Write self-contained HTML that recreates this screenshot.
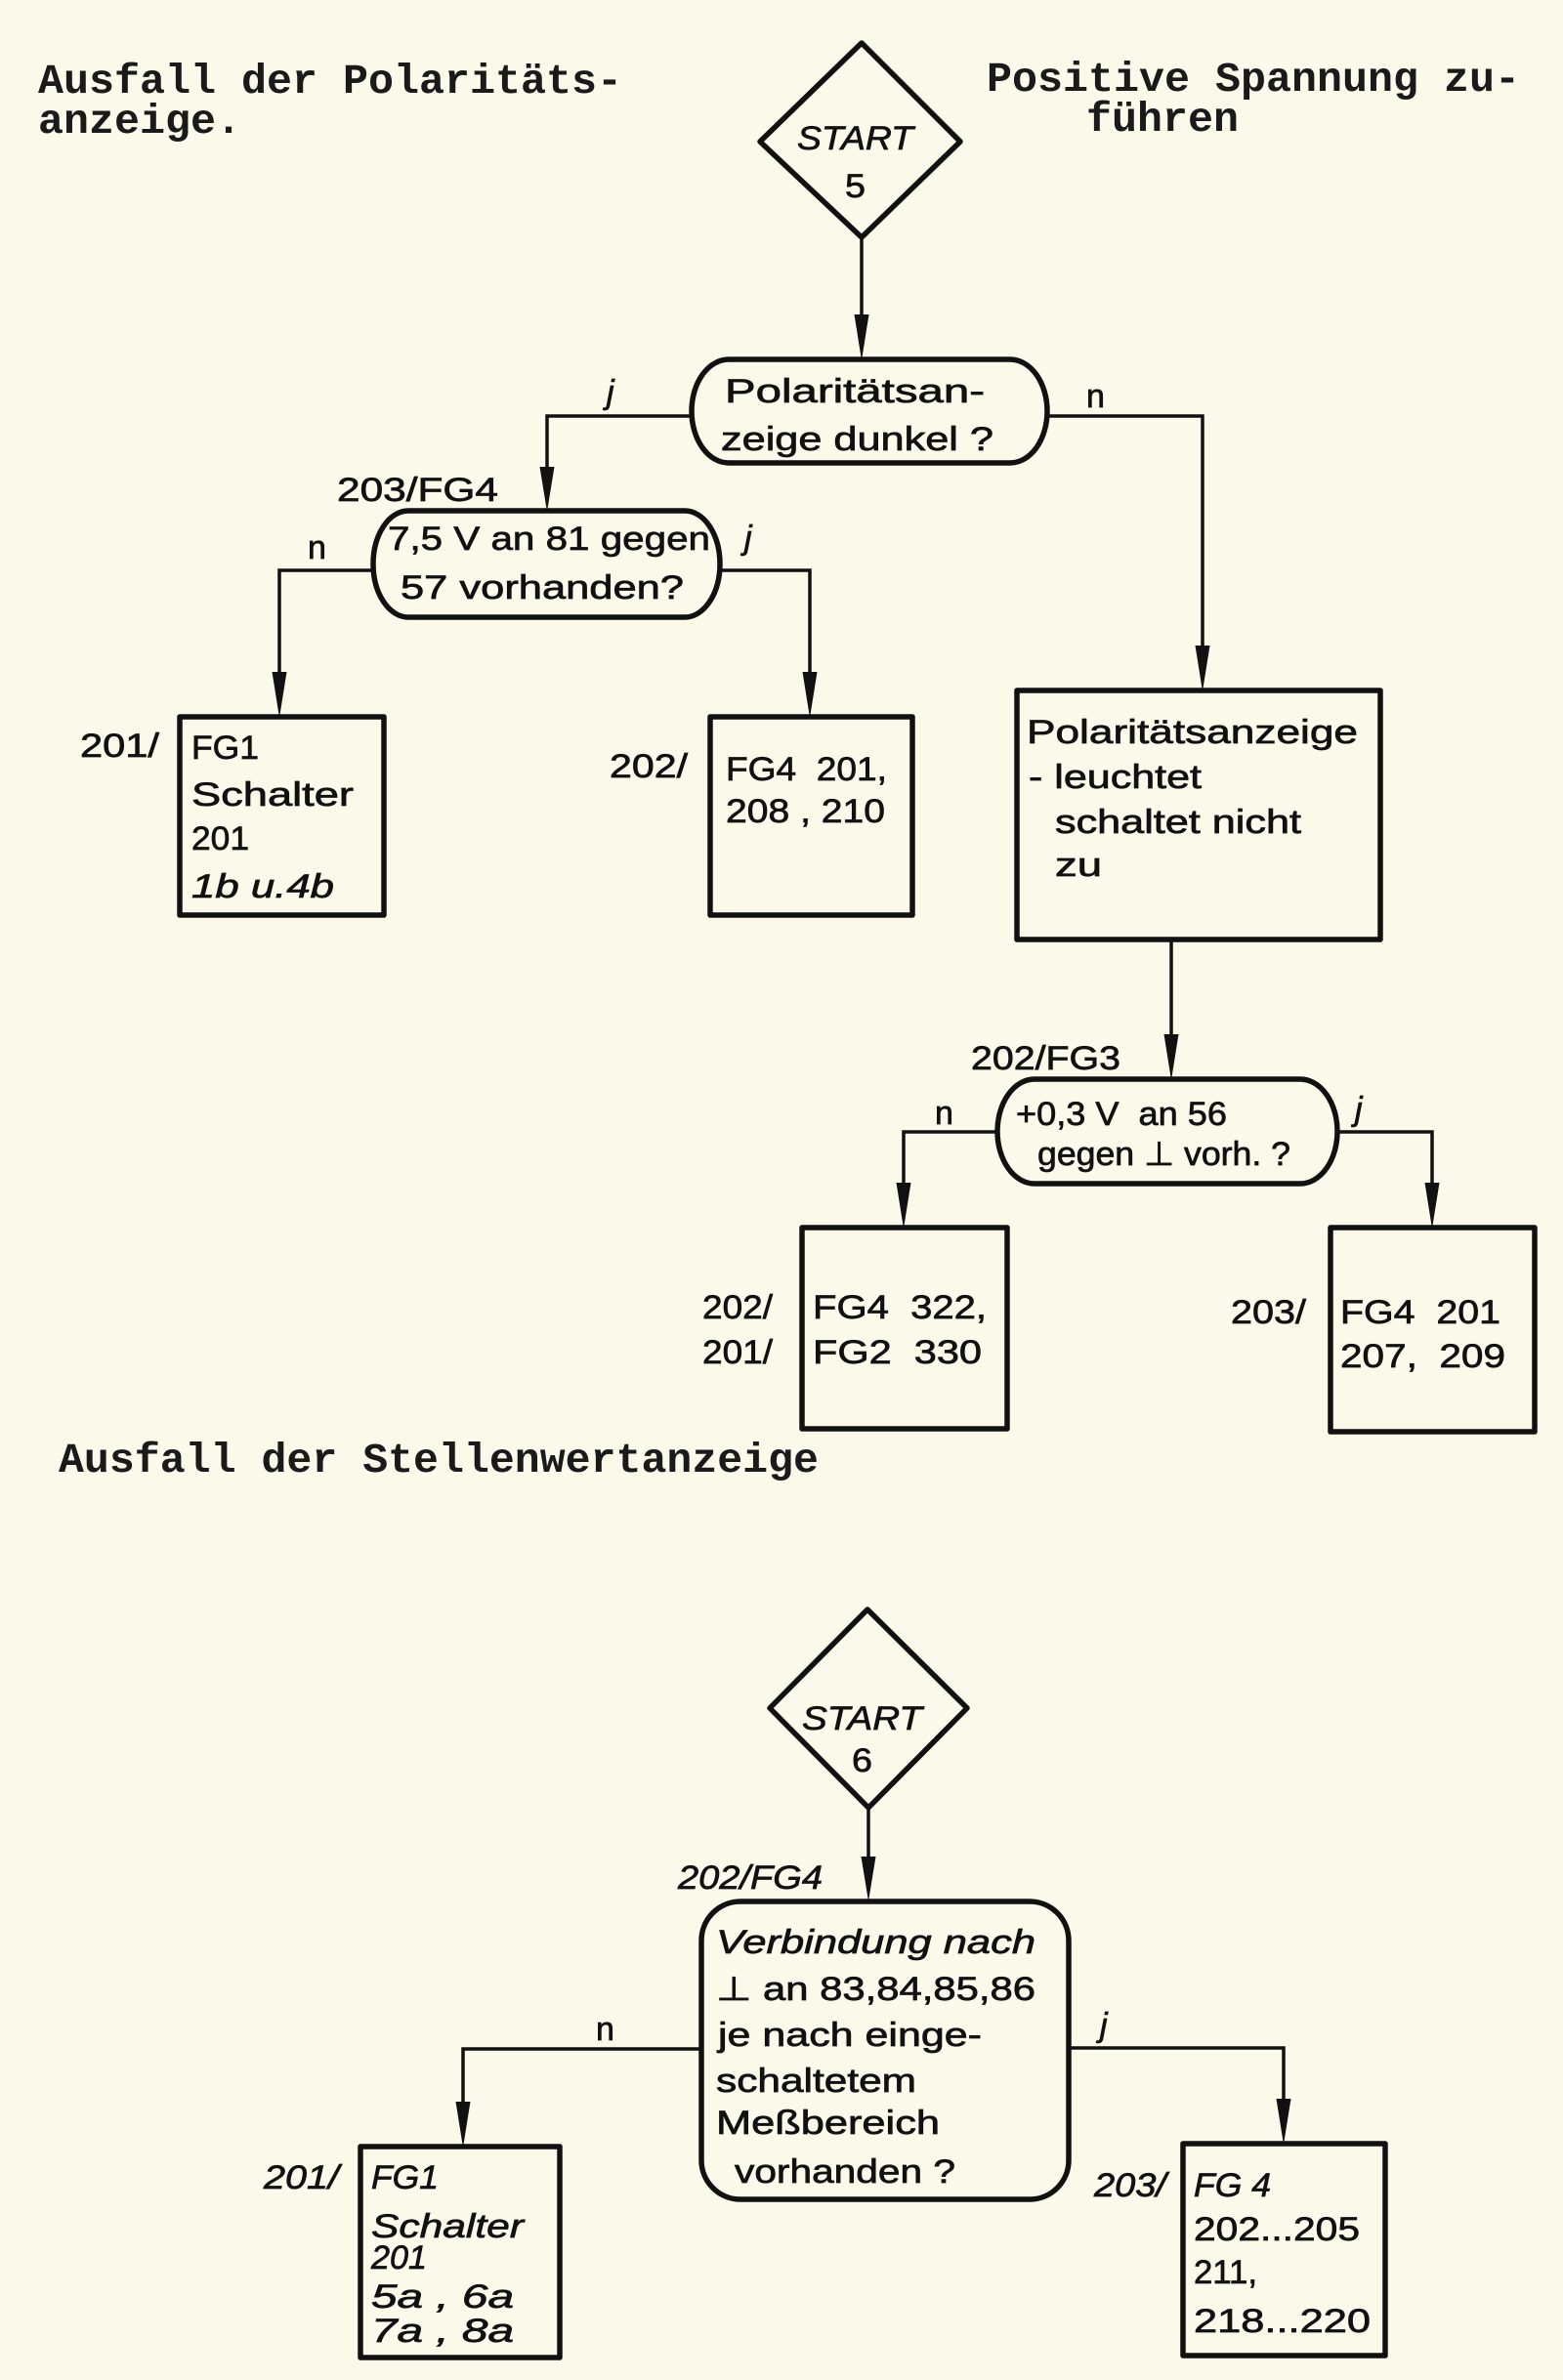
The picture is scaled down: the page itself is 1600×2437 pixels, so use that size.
<!DOCTYPE html>
<html>
<head>
<meta charset="utf-8">
<style>
  html, body { margin: 0; padding: 0; background: #fbf9ea; }
  body { width: 1600px; height: 2437px; overflow: hidden; }
  svg { display: block; }
  .mono { font-family: "Liberation Mono", "DejaVu Sans Mono", monospace; font-size: 43px; font-weight: bold; fill: #1a1a1a; white-space: pre; }
  .t { font-family: "Liberation Sans", "DejaVu Sans", sans-serif; font-size: 34px; fill: #111; stroke: #111; stroke-width: 0.7; white-space: pre; }
  .i { font-style: italic; }
  .shape { fill: none; stroke: #111; stroke-width: 5.5; stroke-linejoin: round; }
  .ln { fill: none; stroke: #111; stroke-width: 3.5; }
  .ar { fill: #111; }
</style>
</head>
<body>
<svg width="1600" height="2437" viewBox="0 0 1600 2437" xmlns="http://www.w3.org/2000/svg" xml:space="preserve">
  <rect x="0" y="0" width="1600" height="2437" fill="#fbf9ea"/>

  <!-- Header typewriter text -->
  <text class="mono" x="39" y="95" textLength="598" lengthAdjust="spacingAndGlyphs">Ausfall der Polaritäts-</text>
  <text class="mono" x="39" y="136" textLength="208" lengthAdjust="spacingAndGlyphs">anzeige.</text>
  <text class="mono" x="1010" y="93" textLength="546" lengthAdjust="spacingAndGlyphs">Positive Spannung zu-</text>
  <text class="mono" x="1112" y="134" textLength="156" lengthAdjust="spacingAndGlyphs">führen</text>
  <text class="mono" x="60" y="1507" textLength="778" lengthAdjust="spacingAndGlyphs">Ausfall der Stellenwertanzeige</text>

  <!-- START 5 -->
  <polygon class="shape" points="882,44 983,145 882,243 778,145"/>
  <text class="t i" x="816" y="153" font-size="36" textLength="119" lengthAdjust="spacingAndGlyphs">START</text>
  <text class="t" x="865" y="202" font-size="36" textLength="21" lengthAdjust="spacingAndGlyphs">5</text>

  <line class="ln" x1="882" y1="243" x2="882" y2="330"/>
  <polygon class="ar" points="874.5,322 889.5,322 882,369"/>

  <!-- Decision 1 -->
  <path class="shape" d="M746,368 H1034 A38,53 0 0 1 1034,474 H746 A38,53 0 0 1 746,368 Z"/>
  <text class="t" x="742" y="412" textLength="266" lengthAdjust="spacingAndGlyphs">Polaritätsan-</text>
  <text class="t" x="738" y="461" textLength="279" lengthAdjust="spacingAndGlyphs">zeige dunkel ?</text>

  <!-- j branch left -->
  <text class="t i" x="621" y="413">j</text>
  <polyline class="ln" points="708,426 560,426 560,485"/>
  <polygon class="ar" points="552.5,478 567.5,478 560,524"/>

  <!-- n branch right -->
  <text class="t" x="1112" y="417">n</text>
  <polyline class="ln" points="1072,426 1231,426 1231,668"/>
  <polygon class="ar" points="1223.5,661 1238.5,661 1231,708"/>

  <!-- 203/FG4 decision 2 -->
  <text class="t" x="345" y="513" font-size="36" textLength="165" lengthAdjust="spacingAndGlyphs">203/FG4</text>
  <path class="shape" d="M418,523 H701 A36,54.5 0 0 1 701,632 H418 A36,54.5 0 0 1 418,523 Z"/>
  <text class="t" x="397" y="563" textLength="330" lengthAdjust="spacingAndGlyphs">7,5 V an 81 gegen</text>
  <text class="t" x="410" y="613" textLength="290" lengthAdjust="spacingAndGlyphs">57 vorhanden?</text>

  <text class="t" x="315" y="572">n</text>
  <polyline class="ln" points="382,584 286,584 286,695"/>
  <polygon class="ar" points="278.5,688 293.5,688 286,735"/>

  <text class="t i" x="762" y="562">j</text>
  <polyline class="ln" points="737,584 829,584 829,695"/>
  <polygon class="ar" points="821.5,688 836.5,688 829,735"/>

  <!-- Box 201 FG1 -->
  <text class="t" x="82" y="775" textLength="81" lengthAdjust="spacingAndGlyphs">201/</text>
  <rect class="shape" x="184" y="734" width="209" height="203"/>
  <text class="t" x="196" y="777" textLength="69" lengthAdjust="spacingAndGlyphs">FG1</text>
  <text class="t" x="196" y="825" textLength="166" lengthAdjust="spacingAndGlyphs">Schalter</text>
  <text class="t" x="196" y="870" textLength="59" lengthAdjust="spacingAndGlyphs">201</text>
  <text class="t i" x="196" y="919" textLength="146" lengthAdjust="spacingAndGlyphs">1b u.4b</text>

  <!-- Box 202 FG4 -->
  <text class="t" x="624" y="796" textLength="80" lengthAdjust="spacingAndGlyphs">202/</text>
  <rect class="shape" x="727" y="734" width="207" height="203"/>
  <text class="t" x="743" y="799" textLength="165" lengthAdjust="spacingAndGlyphs">FG4  201,</text>
  <text class="t" x="743" y="842" textLength="163" lengthAdjust="spacingAndGlyphs">208 , 210</text>

  <!-- Box Polaritätsanzeige -->
  <rect class="shape" x="1041" y="707" width="372" height="255"/>
  <text class="t" x="1051" y="761" textLength="339" lengthAdjust="spacingAndGlyphs">Polaritätsanzeige</text>
  <text class="t" x="1053" y="807" textLength="177" lengthAdjust="spacingAndGlyphs">- leuchtet</text>
  <text class="t" x="1080" y="853" textLength="252" lengthAdjust="spacingAndGlyphs">schaltet nicht</text>
  <text class="t" x="1080" y="897" textLength="48" lengthAdjust="spacingAndGlyphs">zu</text>

  <line class="ln" x1="1199" y1="962" x2="1199" y2="1066"/>
  <polygon class="ar" points="1191.5,1059 1206.5,1059 1199,1106"/>

  <!-- 202/FG3 decision 3 -->
  <text class="t" x="994" y="1095" textLength="153" lengthAdjust="spacingAndGlyphs">202/FG3</text>
  <path class="shape" d="M1059,1105 H1331 A38,53.5 0 0 1 1331,1212 H1059 A38,53.5 0 0 1 1059,1105 Z"/>
  <text class="t" x="1040" y="1152" textLength="216" lengthAdjust="spacingAndGlyphs">+0,3 V  an 56</text>
  <text class="t" x="1062" y="1193" textLength="259" lengthAdjust="spacingAndGlyphs">gegen ⊥ vorh. ?</text>

  <text class="t" x="957" y="1151">n</text>
  <polyline class="ln" points="1021,1159 925,1159 925,1218"/>
  <polygon class="ar" points="917.5,1211 932.5,1211 925,1258"/>

  <text class="t i" x="1387" y="1147">j</text>
  <polyline class="ln" points="1369,1159 1466,1159 1466,1218"/>
  <polygon class="ar" points="1458.5,1211 1473.5,1211 1466,1258"/>

  <!-- Box 202/201 -->
  <text class="t" x="719" y="1350" textLength="72" lengthAdjust="spacingAndGlyphs">202/</text>
  <text class="t" x="719" y="1396" textLength="72" lengthAdjust="spacingAndGlyphs">201/</text>
  <rect class="shape" x="821" y="1257" width="210" height="206"/>
  <text class="t" x="832" y="1350" textLength="178" lengthAdjust="spacingAndGlyphs">FG4  322,</text>
  <text class="t" x="832" y="1396" textLength="173" lengthAdjust="spacingAndGlyphs">FG2  330</text>

  <!-- Box 203 -->
  <text class="t" x="1260" y="1355" textLength="77" lengthAdjust="spacingAndGlyphs">203/</text>
  <rect class="shape" x="1362" y="1257" width="209" height="209"/>
  <text class="t" x="1372" y="1355" textLength="164" lengthAdjust="spacingAndGlyphs">FG4  201</text>
  <text class="t" x="1372" y="1400" textLength="169" lengthAdjust="spacingAndGlyphs">207,  209</text>

  <!-- START 6 -->
  <polygon class="shape" points="888,1648 990,1749 889,1851 788,1749"/>
  <text class="t i" x="821" y="1771" font-size="36" textLength="123" lengthAdjust="spacingAndGlyphs">START</text>
  <text class="t" x="872" y="1814" font-size="36" textLength="21" lengthAdjust="spacingAndGlyphs">6</text>

  <line class="ln" x1="889" y1="1851" x2="889" y2="1908"/>
  <polygon class="ar" points="881.5,1901 896.5,1901 889,1947"/>

  <text class="t i" x="694" y="1934" textLength="148" lengthAdjust="spacingAndGlyphs">202/FG4</text>

  <!-- Big decision -->
  <rect class="shape" x="718" y="1947" width="376" height="305" rx="40" ry="40"/>
  <text class="t i" x="733" y="2000" font-size="36" textLength="327" lengthAdjust="spacingAndGlyphs">Verbindung nach</text>
  <text class="t" x="733" y="2048" font-size="36" textLength="327" lengthAdjust="spacingAndGlyphs">⊥ an 83,84,85,86</text>
  <text class="t" x="735" y="2095" font-size="36" textLength="270" lengthAdjust="spacingAndGlyphs">je nach einge-</text>
  <text class="t" x="733" y="2142" font-size="36" textLength="205" lengthAdjust="spacingAndGlyphs">schaltetem</text>
  <text class="t" x="733" y="2185" font-size="36" textLength="229" lengthAdjust="spacingAndGlyphs">Meßbereich</text>
  <text class="t" x="752" y="2235" font-size="36" textLength="226" lengthAdjust="spacingAndGlyphs">vorhanden ?</text>

  <text class="t" x="610" y="2089">n</text>
  <polyline class="ln" points="718,2098 474,2098 474,2159"/>
  <polygon class="ar" points="466.5,2152 481.5,2152 474,2199"/>

  <text class="t i" x="1126" y="2085">j</text>
  <polyline class="ln" points="1094,2097 1314,2097 1314,2156"/>
  <polygon class="ar" points="1306.5,2149 1321.5,2149 1314,2196"/>

  <!-- Bottom box 201 -->
  <text class="t i" x="270" y="2241" textLength="77" lengthAdjust="spacingAndGlyphs">201/</text>
  <rect class="shape" x="369" y="2198" width="204" height="216"/>
  <text class="t i" x="380" y="2241" textLength="69" lengthAdjust="spacingAndGlyphs">FG1</text>
  <text class="t i" x="380" y="2291" textLength="156" lengthAdjust="spacingAndGlyphs">Schalter</text>
  <text class="t i" x="380" y="2323" textLength="57" lengthAdjust="spacingAndGlyphs">201</text>
  <text class="t i" x="380" y="2363" textLength="146" lengthAdjust="spacingAndGlyphs">5a , 6a</text>
  <text class="t i" x="380" y="2398" textLength="146" lengthAdjust="spacingAndGlyphs">7a , 8a</text>

  <!-- Bottom box 203 -->
  <text class="t i" x="1120" y="2249" textLength="74" lengthAdjust="spacingAndGlyphs">203/</text>
  <rect class="shape" x="1211" y="2195" width="207" height="217"/>
  <text class="t i" x="1222" y="2249" textLength="79" lengthAdjust="spacingAndGlyphs">FG 4</text>
  <text class="t" x="1222" y="2294" textLength="170" lengthAdjust="spacingAndGlyphs">202...205</text>
  <text class="t" x="1222" y="2338" textLength="65" lengthAdjust="spacingAndGlyphs">211,</text>
  <text class="t" x="1222" y="2388" textLength="181" lengthAdjust="spacingAndGlyphs">218...220</text>
</svg>
</body>
</html>
